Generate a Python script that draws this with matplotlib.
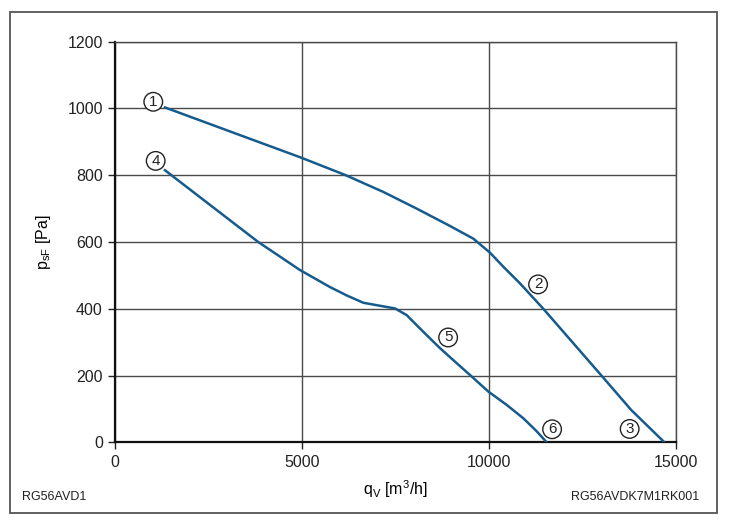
import matplotlib
matplotlib.use("Agg")
import matplotlib.pyplot as plt
from matplotlib.patches import Rectangle

plt.rcParams['font.family'] = ['Liberation Sans', 'DejaVu Sans']

# --- Data ---
# upper curve: (1) -> (2) -> (3)
q_upper = [1330, 3000, 4941, 6145, 7170, 8063, 8954, 9578, 10024, 10380, 10827,
           11450, 13005, 13800, 14690]
p_upper = [1003, 934, 854, 801, 750, 700, 648, 610, 568, 526, 476,
           400, 200, 97, 0]

# lower curve: (4) -> (5) -> (6)
q_lower = [1329, 2500, 3824, 4941, 5744, 6190, 6635, 7081, 7482, 7795, 8240, 8686,
           9133, 9535, 9979, 10471, 10915, 11273, 11541]
p_lower = [815, 714, 600, 516, 465, 440, 418, 409, 401, 381, 331, 282,
           237, 197, 152, 112, 72, 33, 0]

# circled point labels
label_text = ['1', '2', '3', '4', '5', '6']
label_q = [1016, 11310, 13760, 1080, 8904, 11685]
label_p = [1020, 473, 40, 843, 314, 39]

x_ticks = [0, 5000, 10000, 15000]
y_ticks = [0, 200, 400, 600, 800, 1000, 1200]

line_color = '#165b8e'
grid_color = '#4a4a4a'

fig = plt.figure(figsize=(7.29, 5.24), dpi=100)

# outer frame
fig.patches.append(Rectangle((9.5 / 729, 1 - 512.5 / 524), 707 / 729, 501 / 524,
                             transform=fig.transFigure, fill=False,
                             edgecolor='#555555', linewidth=1.3))

ax = fig.add_axes([115.3 / 729, 1 - 442.3 / 524, 560.7 / 729, 400.6 / 524])
ax.set_xlim(0, 15000)
ax.set_ylim(0, 1200)

ax.set_xticks(x_ticks)
ax.set_yticks(y_ticks)
ax.tick_params(direction='out', length=5, width=1, colors='#222222',
               labelsize=11.5, pad=4)

ax.grid(True, color=grid_color, linewidth=1.0)
ax.set_axisbelow(True)
for side in ['top', 'right']:
    ax.spines[side].set_color(grid_color)
    ax.spines[side].set_linewidth(1.0)
for side in ['left', 'bottom']:
    ax.spines[side].set_color('#111111')
    ax.spines[side].set_linewidth(1.6)

ax.plot(q_upper, p_upper, color=line_color, linewidth=1.8, solid_joinstyle='round', zorder=3)
ax.plot(q_lower, p_lower, color=line_color, linewidth=1.8, solid_joinstyle='round', zorder=3)

for t, q, p in zip(label_text, label_q, label_p):
    ax.text(q, p, t, ha='center', va='center', fontsize=11, color='#222222', zorder=4,
            bbox=dict(boxstyle='circle,pad=0.15', facecolor='white',
                      edgecolor='#222222', linewidth=1.0))

ax.set_xlabel(r'q$_\mathregular{V}$ [m$^\mathregular{3}$/h]', fontsize=11.5, labelpad=6)
ax.set_ylabel(r'p$_\mathregular{sF}$ [Pa]', fontsize=11.5, labelpad=10)

fig.text(22 / 729, 1 - 497 / 524, 'RG56AVD1', fontsize=9, ha='left', va='center', color='#222222')
fig.text(699 / 729, 1 - 497 / 524, 'RG56AVDK7M1RK001', fontsize=9, ha='right', va='center',
         color='#222222')

fig.savefig('out.png', dpi=100)
